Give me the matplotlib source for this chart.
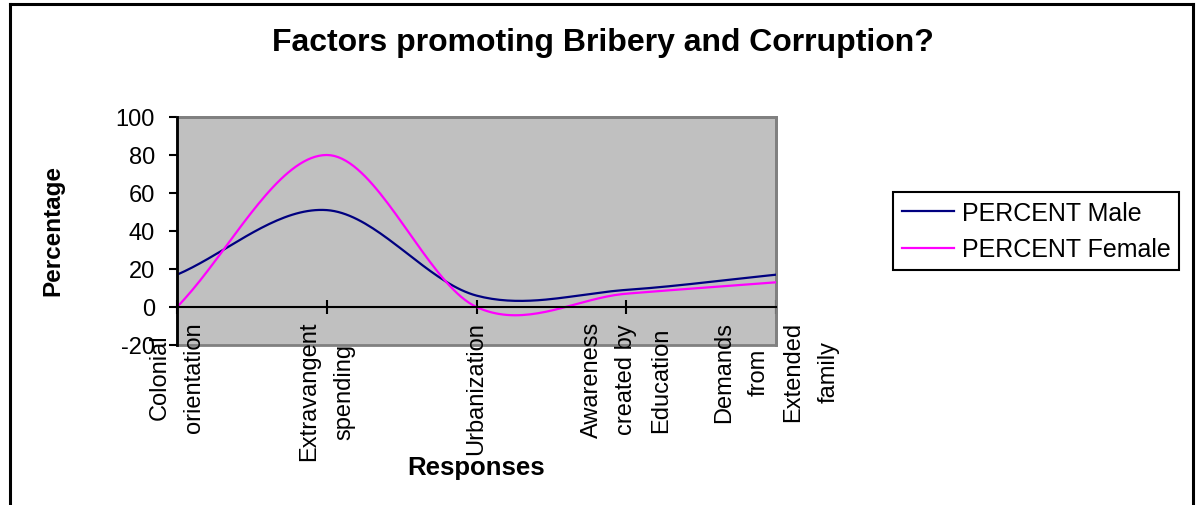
import numpy as np
import matplotlib.pyplot as plt
from matplotlib.lines import Line2D
from matplotlib.patches import Rectangle

plt.rcParams['font.family'] = ['Liberation Sans', 'DejaVu Sans']
plt.rcParams['axes.unicode_minus'] = False

categories = ["Colonial\norientation", "Extravangent\nspending", "Urbanization",
              "Awareness\ncreated by\nEducation", "Demands\nfrom\nExtended\nfamily"]
male = [17, 51, 6, 9, 17]
female = [0, 80, 0, 7, 13]
y_ticks = [-20, 0, 20, 40, 60, 80, 100]
series_names = ["PERCENT Male", "PERCENT Female"]


def smooth(values, n=40):
    """Hermite / Catmull-Rom curve through the points, like Excel's smoothed line."""
    p = np.asarray(values, dtype=float)
    m = np.empty_like(p)
    m[1:-1] = (p[2:] - p[:-2]) / 2
    m[0] = p[1] - p[0]
    m[-1] = p[-1] - p[-2]
    t = np.linspace(0, 1, n)
    h00 = 2*t**3 - 3*t**2 + 1
    h10 = t**3 - 2*t**2 + t
    h01 = -2*t**3 + 3*t**2
    h11 = t**3 - t**2
    xs, ys = [], []
    for i in range(len(p) - 1):
        xs.append(i + t)
        ys.append(h00*p[i] + h10*m[i] + h01*p[i+1] + h11*m[i+1])
    return np.concatenate(xs), np.concatenate(ys)


W, H = 1199, 506
fig = plt.figure(figsize=(W/100, H/100), dpi=100)
ax = fig.add_axes([177/W, 1 - 346/H, (776-177)/W, (346-118)/H])
ax.set_facecolor('#C0C0C0')

xm, ym = smooth(male)
xf, yf = smooth(female)
ax.plot(xm, ym, color='#000080', lw=1.6, zorder=4)
ax.plot(xf, yf, color='#FF00FF', lw=1.6, zorder=4)

# frame of the plot area
for s in ['top', 'right']:
    ax.spines[s].set_color('#808080')
    ax.spines[s].set_linewidth(2)
ax.add_patch(Rectangle((0, 0), 1, 1, transform=ax.transAxes, fill=False,
                       edgecolor='#808080', lw=2, clip_on=False, zorder=1))
ax.spines['left'].set_color('black')
ax.spines['left'].set_linewidth(2)
ax.spines['bottom'].set_position(('data', 0))  # category axis crosses at 0
ax.spines['bottom'].set_color('black')
ax.spines['bottom'].set_linewidth(1.5)
ax.spines['left'].set_zorder(5)
ax.spines['bottom'].set_zorder(5)

ax.set_xlim(0, len(categories) - 1)
ax.set_ylim(-20, 100)
ax.set_yticks(y_ticks)
ax.set_xticks(range(len(categories)))
ax.tick_params(axis='y', direction='out', length=6, width=1.5, pad=10, labelsize=17)
ax.tick_params(axis='x', direction='inout', length=10, width=1.5, pad=5, labelsize=17)
ax.set_xticklabels(categories, rotation=90, va='top', ha='center',
                   multialignment='center', linespacing=1.75)

fig.text(603/W, 1 - 43/H, "Factors promoting Bribery and Corruption?",
         ha='center', va='center', fontsize=23, fontweight='bold')
fig.text(53/W, 1 - 231/H, "Percentage", rotation=90, ha='center', va='center',
         fontsize=17.5, fontweight='bold')
fig.text(476/W, 1 - 468/H, "Responses", ha='center', va='center',
         fontsize=18.5, fontweight='bold')

handles = [Line2D([], [], color='#000080', lw=1.6),
           Line2D([], [], color='#FF00FF', lw=1.6)]
leg = fig.legend(handles, series_names, loc='upper left',
                 bbox_to_anchor=(893/W, 1 - 193/H), borderaxespad=0,
                 fontsize=18, frameon=True, fancybox=False, framealpha=1,
                 edgecolor='black', handlelength=2.1, handletextpad=0.3,
                 labelspacing=0.5, borderpad=0.35)
leg.get_frame().set_linewidth(1.5)

# outer chart border
for xs, ys in [([10, 10], [H + 5, 5]), ([10, 1193], [5, 5]), ([1193, 1193], [5, H + 5])]:
    fig.add_artist(Line2D([x/W for x in xs], [1 - y/H for y in ys],
                          color='black', lw=2.2, transform=fig.transFigure))

fig.savefig('out.png', dpi=100)
